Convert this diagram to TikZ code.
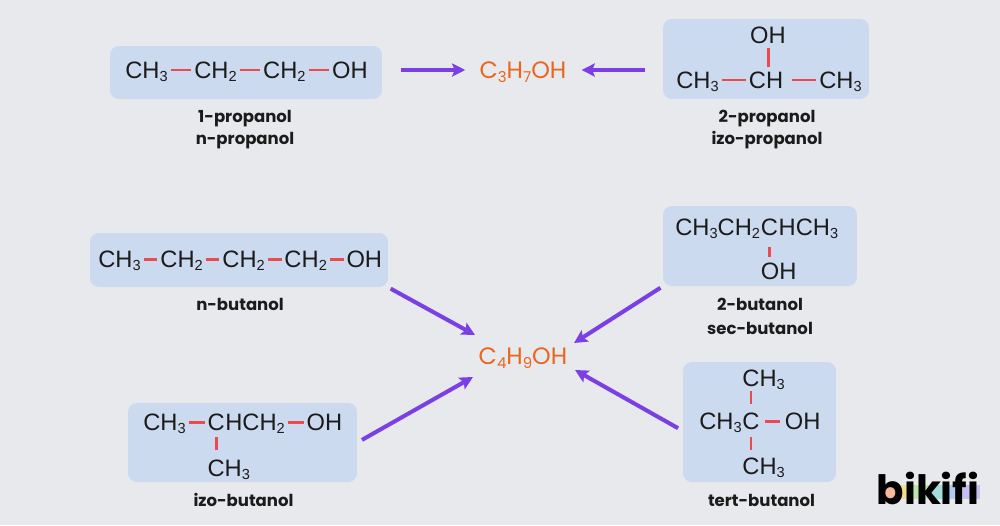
\documentclass[tikz,border=0pt]{standalone}
\usepackage{fontspec}
\setmainfont{Liberation Sans}
\newfontfamily\popfont{Poppins}
\usetikzlibrary{positioning,arrows.meta}

\definecolor{bg}{HTML}{E8E9ED}
\definecolor{boxblue}{HTML}{CCDAF0}
\definecolor{bondred}{HTML}{EC4B4E}
\definecolor{convpurple}{HTML}{7B3FE6}
\definecolor{sumorange}{HTML}{EA651E}
\definecolor{ink}{HTML}{1B1B1B}
\definecolor{logoa}{HTML}{F7B79E}
\definecolor{logob}{HTML}{F4DE8E}
\definecolor{logoc}{HTML}{BDE5A8}
\definecolor{logod}{HTML}{A3DCDC}
\definecolor{logoe}{HTML}{AFC9F0}
\definecolor{logof}{HTML}{C7BDF2}

\newcommand\sub[1]{\raisebox{-1.9pt}{\fontsize{8.3}{8.3}\selectfont #1}}
\newcommand\subo[1]{\raisebox{-2.3pt}{\fontsize{8.5}{8.5}\selectfont #1}}
\newcommand\chemsize{\fontsize{13.5}{15}\selectfont}
\newcommand\isofont{\popfont\bfseries\fontsize{9.4}{11}\selectfont}
\newcommand\sumfont{\popfont\fontsize{13.5}{15}\selectfont}
\newcommand\logofont{\popfont\bfseries\fontsize{23}{26}\selectfont}

\tikzset{
  molbox/.style={fill=boxblue, rounded corners=5pt, inner sep=0pt},
  chem/.style={font=\chemsize, text=ink, inner sep=0pt, text height=9.65pt, text depth=0pt},
  bond/.style={draw=bondred, line width=1.7pt, shorten <=1.5pt, shorten >=1.5pt},
  conv/.style={draw=convpurple, line width=2.3pt, -{Stealth[length=7.5pt,width=7.5pt,inset=1.5pt]}},
  iso/.style={font=\isofont, text=ink, inner sep=0pt, anchor=base},
  sumf/.style={font=\sumfont, text=sumorange, inner sep=0pt, text height=9.4pt, text depth=0pt}
}

\begin{document}
\begin{tikzpicture}[x=0.02cm, y=-0.02cm]
  \useasboundingbox (0,0) rectangle (1000,525);
  \fill[bg] (0,0) rectangle (1000,525);

  % boxes
  \node[molbox, minimum width=5.44cm, minimum height=1.06cm] (b1) at (246,72.5) {};
  \node[molbox, minimum width=4.12cm, minimum height=1.6cm] (b2) at (766,59) {};
  \node[molbox, minimum width=5.96cm, minimum height=1.08cm] (b3) at (239,260) {};
  \node[molbox, minimum width=3.88cm, minimum height=1.6cm] (b4) at (760,246) {};
  \node[molbox, minimum width=4.58cm, minimum height=1.58cm] (b5) at (242.5,442.5) {};
  \node[molbox, minimum width=3.06cm, minimum height=2.4cm] (b6) at (759.5,422) {};

  % 1-propanol
  \node[chem, anchor=west] (p1) at (125,70) {CH\sub3};
  \node[chem, right=14.7pt of p1] (p2) {CH\sub2};
  \node[chem, right=14.7pt of p2] (p3) {CH\sub2};
  \node[chem, right=14.7pt of p3] (p4) {OH};
  \draw[bond] (p1) -- (p2);
  \draw[bond] (p2) -- (p3);
  \draw[bond] (p3) -- (p4);

  % 2-propanol
  \node[chem] (q1) at (766,80) {CH};
  \node[chem, anchor=east] (q0) at (719,80) {CH\sub3};
  \node[chem, anchor=west] (q2) at (819,80) {CH\sub3};
  \node[chem] (q3) at (768,35) {OH};
  \draw[bond] (q0) -- (q1);
  \draw[bond, shorten <=5pt] (q1) -- (q2);
  \draw[bond, shorten <=2.3pt, shorten >=2.3pt] (q3.south) -- (q3.south |- q1.north);

  % n-butanol
  \node[chem, anchor=west] (n1) at (98,259) {CH\sub3};
  \node[chem, right=10.8pt of n1] (n2) {CH\sub2};
  \node[chem, right=10.8pt of n2] (n3) {CH\sub2};
  \node[chem, right=10.8pt of n3] (n4) {CH\sub2};
  \node[chem, right=10.8pt of n4] (n5) {OH};
  \foreach \a/\b in {n1/n2, n2/n3, n3/n4, n4/n5}
    \draw[bond] (\a) -- (\b);

  % 2-butanol
  \node[chem, anchor=west] (s1) at (675,227) {CH\sub3CH\sub2};
  \node[chem, right=0pt of s1] (s2) {C};
  \node[chem, right=0pt of s2] (s3) {HCH\sub3};
  \node[chem, anchor=west] (s4) at (s2.west |- 0,271.5) {OH};
  \draw[bond, shorten <=6.5pt, shorten >=3.5pt] (s2.south) -- (s2.south |- s4.north);

  % izo-butanol
  \node[chem, anchor=west] (i1) at (143,422) {CH\sub3};
  \node[chem, right=12pt of i1] (i2) {C};
  \node[chem, right=0pt of i2] (i3) {HCH\sub2};
  \node[chem, right=12pt of i3] (i4) {OH};
  \node[chem, anchor=west] (i5) at (i2.west |- 0,468) {CH\sub3};
  \draw[bond] (i1) -- (i2);
  \draw[bond] (i3) -- (i4);
  \draw[bond, shorten <=3.3pt, shorten >=5pt] (i2.south) -- (i2.south |- i5.north);

  % tert-butanol
  \node[chem, anchor=west] (t1) at (699,421) {CH\sub3};
  \node[chem, right=0pt of t1] (t2) {C};
  \node[chem, right=14pt of t2] (t3) {OH};
  \node[chem, anchor=west] (t0) at (t2.west |- 0,378) {CH\sub3};
  \node[chem, anchor=west] (t4) at (t2.west |- 0,466) {CH\sub3};
  \draw[bond, shorten <=2.8pt, shorten >=2.8pt] (t2) -- (t3);
  \draw[bond, shorten <=4.5pt, shorten >=2.3pt] (t2.north) -- (t2.north |- t0.south);
  \draw[bond, shorten <=4pt, shorten >=4pt] (t2.south) -- (t2.south |- t4.north);

  % sum formulas
  \node[sumf] (c3) at (523,70) {C\subo3H\subo7OH};
  \node[sumf] (c4) at (523,356) {C\subo4H\subo9OH};

  % names
  \node[iso] (l1a) at (245,122) {1-propanol};
  \node[iso] (l1b) at (245,144) {n-propanol};
  \node[iso] (l2a) at (767,122) {2-propanol};
  \node[iso] (l2b) at (767,144) {izo-propanol};
  \node[iso] (l3) at (240,310) {n-butanol};
  \node[iso] (l4a) at (760,310) {2-butanol};
  \node[iso] (l4b) at (760,334) {sec-butanol};
  \node[iso] (l5) at (243.5,506) {izo-butanol};
  \node[iso] (l6) at (761.5,506) {tert-butanol};

  % arrows
  \coordinate (in1) at (475,335);
  \coordinate (in2) at (574,343);
  \coordinate (in3) at (473,377);
  \coordinate (in4) at (575,370);
  \draw[conv, shorten <=10.5pt, shorten >=8pt] (b1.east |- c3.west) -- (c3.west);
  \draw[conv, shorten <=10pt, shorten >=8.5pt] (b2.west |- c3.east) -- (c3.east);
  \draw[conv, shorten <=1.5pt] (b3.south east) -- (in1);
  \draw[conv, shorten <=1.5pt] (b4.south west) -- (in2);
  \draw[conv, shorten <=3pt] (b5.east) -- (in3);
  \draw[conv, shorten <=3pt] ([yshift=-5pt]b6.west) -- (in4);

  % logo
  \foreach \c [count=\i from 0] in {logoa,logob,logoc,logod,logoe,logof}
    \fill[\c] (880+\i*16.67,485) rectangle ++(16.67,14);
  \node[font=\logofont, text=black, inner sep=0pt, anchor=base] (logo) at (928,504) {bikifi};
\end{tikzpicture}
\end{document}
